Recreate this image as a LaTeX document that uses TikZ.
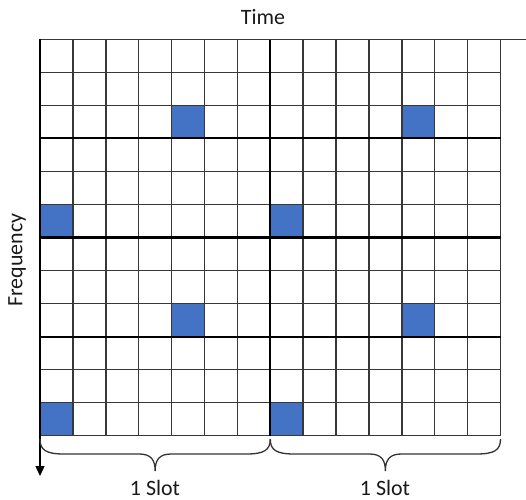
\documentclass[tikz,border=0pt]{standalone}
\usepackage{fontspec}
\setmainfont{Carlito}
\usetikzlibrary{calc,arrows.meta}
\definecolor{cellblue}{HTML}{4472C4}
\definecolor{gridgray}{HTML}{383838}
\begin{document}
\begin{tikzpicture}[x=1bp,y=-1bp,
  gridline/.style={draw=gridgray,line width=1.5bp},
  heavyline/.style={draw=black,line width=2.1bp},
  hit/.style={fill=cellblue,draw=black!70,line width=1bp},
  axisline/.style={draw=black,line width=1.3bp},
  lbl/.style={font=\fontsize{22}{26}\selectfont,inner sep=0pt,text=black!90},
  slotbrace/.style={draw=black!80,line width=1.3bp}]
\useasboundingbox (0,0) rectangle (526,500);
\def\cw{32.893}
\def\rh{33.033}
\def\xo{40}
\def\yo{39.3}
% blue occupied cells
\foreach \c/\r in {4/2,0/5,4/8,0/11,11/2,7/5,11/8,7/11}
  \path[hit] ({\xo+\c*\cw},{\yo+\r*\rh}) rectangle ++(\cw,\rh);
% grid
\foreach \i in {1,...,14}
  \draw[gridline] ({\xo+\i*\cw},\yo) -- ({\xo+\i*\cw},{\yo+12*\rh});
\foreach \j in {1,...,12}
  \draw[gridline] (\xo,{\yo+\j*\rh}) -- ({\xo+14*\cw},{\yo+\j*\rh});
\foreach \j in {3,6,9}
  \draw[heavyline] (\xo,{\yo+\j*\rh}) -- ({\xo+14*\cw},{\yo+\j*\rh});
\draw[heavyline] ({\xo+7*\cw},\yo) -- ({\xo+7*\cw},{\yo+12*\rh});
% axes
\coordinate (origin) at (\xo,\yo);
\coordinate (tend) at (526,\yo);
\coordinate (fend) at (\xo,476);
\draw[gridline] (origin) -- (tend);
\draw[axisline,-{Triangle[length=10bp,width=9bp]}] (origin) -- (fend);
% braces
\coordinate (bA) at (\xo,439);
\coordinate (bB) at ({\xo+7*\cw},439);
\coordinate (bC) at ({\xo+14*\cw},439);
\foreach \s/\e in {bA/bB,bB/bC}{
  \draw[slotbrace]
    (\s) .. controls ($(\s)+(0,11)$) and ($(\s)+(6,15)$) .. ($(\s)+(24,15)$)
    -- ($($(\s)!0.5!(\e)$)+(-16,15)$)
    .. controls ($($(\s)!0.5!(\e)$)+(-4,15)$) and ($($(\s)!0.5!(\e)$)+(0,21)$) .. ($($(\s)!0.5!(\e)$)+(0,32)$)
    .. controls ($($(\s)!0.5!(\e)$)+(0,21)$) and ($($(\s)!0.5!(\e)$)+(4,15)$) .. ($($(\s)!0.5!(\e)$)+(16,15)$)
    -- ($(\e)+(-24,15)$)
    .. controls ($(\e)+(-6,15)$) and ($(\e)+(0,11)$) .. (\e);
}
% labels
\node[lbl] (time) at (263,17) {Time};
\node[lbl,rotate=90] (freq) at (17,260) {Frequency};
\node[lbl] (slotA) at (155,488) {1 Slot};
\node[lbl] (slotB) at (385,488) {1 Slot};
\end{tikzpicture}
\end{document}
